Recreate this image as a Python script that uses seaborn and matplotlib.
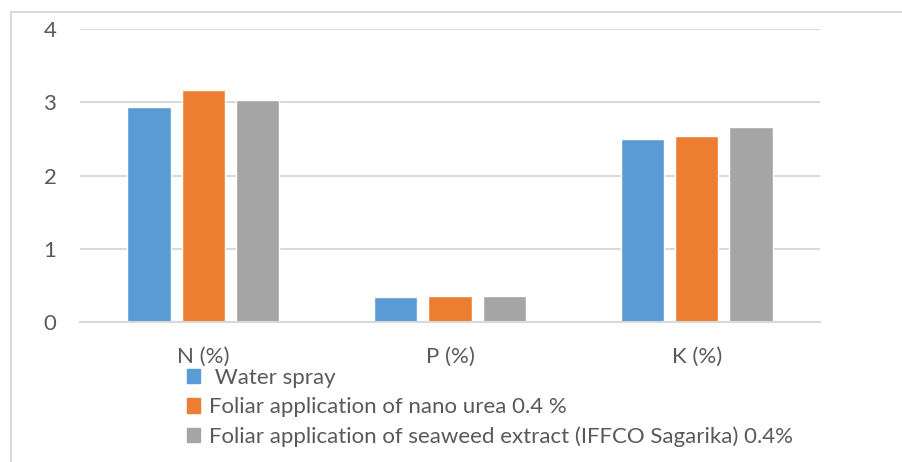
import matplotlib
matplotlib.use("Agg")
import matplotlib.pyplot as plt
from matplotlib.lines import Line2D
import seaborn as sns
import pandas as pd

# data
nutrients = ['N (%)', 'P (%)', 'K (%)']
treatments = [
    ' Water spray',
    'Foliar application of nano urea 0.4 %',
    'Foliar application of seaweed extract (IFFCO Sagarika) 0.4%',
]
water_spray = [2.93, 0.34, 2.50]
nano_urea = [3.17, 0.355, 2.54]
seaweed = [3.03, 0.36, 2.66]
colors = ['#5B9BD5', '#ED7D31', '#A5A5A5']

df = pd.DataFrame({
    'Nutrient': nutrients * 3,
    'Treatment': [treatments[0]] * 3 + [treatments[1]] * 3 + [treatments[2]] * 3,
    'Value': water_spray + nano_urea + seaweed,
})

sns.set_theme(style="white")
plt.rcParams['font.family'] = ['Lato', 'DejaVu Sans']
text_color = '#595959'
grid_color = '#D9D9D9'

fig = plt.figure(figsize=(9.02, 4.62), dpi=100)
ax = fig.add_axes([80 / 902, 1 - 322 / 462, 740 / 902, 293 / 462])

sns.barplot(data=df, x='Nutrient', y='Value', hue='Treatment', order=nutrients,
            hue_order=treatments, palette=colors, width=0.66, gap=0.2,
            saturation=1, ax=ax, legend=False)

ax.set_ylim(0, 4)
ax.set_xlim(-0.5, 2.5)
ax.set_yticks([0, 1, 2, 3, 4])
ax.yaxis.grid(True, color=grid_color, linewidth=1.5)
ax.set_axisbelow(True)
for s in ['top', 'right', 'left']:
    ax.spines[s].set_visible(False)
ax.spines['bottom'].set_color(grid_color)
ax.spines['bottom'].set_linewidth(1.5)
ax.tick_params(axis='both', length=0, labelsize=16, labelcolor=text_color)
ax.tick_params(axis='y', pad=17)
ax.tick_params(axis='x', pad=18)
ax.set_xlabel('')
ax.set_ylabel('')

handles = [plt.Rectangle((0, 0), 1, 1, color=c) for c in colors]
fig.legend(handles, treatments, loc='upper left', bbox_to_anchor=(187 / 902, 1 - 368 / 462),
           frameon=False, fontsize=16, labelcolor=text_color, handlelength=0.6,
           handleheight=0.6, handletextpad=0.4, labelspacing=0.42, borderaxespad=0,
           borderpad=0)

# chart area border
fig.add_artist(Line2D([11 / 902, 1], [1 - 12 / 462, 1 - 12 / 462], color=grid_color, lw=1.5))
fig.add_artist(Line2D([11 / 902, 11 / 902], [0, 1 - 12 / 462], color=grid_color, lw=1.5))

fig.savefig('out.png', dpi=100)
